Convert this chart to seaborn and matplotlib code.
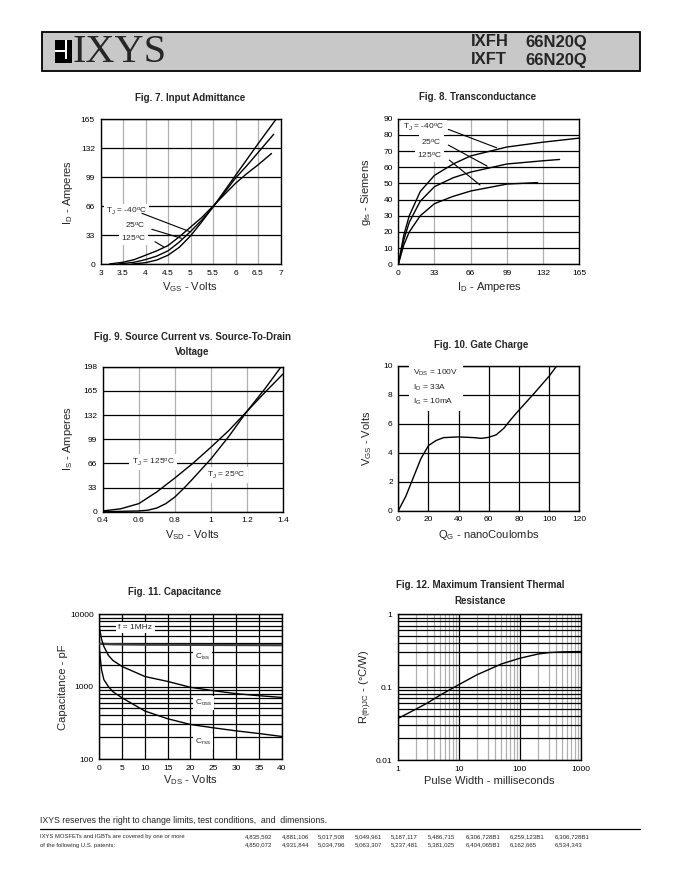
import numpy as np
import pandas as pd
import matplotlib
matplotlib.use("Agg")
import matplotlib.pyplot as plt
import seaborn as sns
from matplotlib.patches import Rectangle
from matplotlib.ticker import LogLocator, NullFormatter, FixedLocator
from matplotlib.lines import Line2D

# Fig. 7 - input admittance (V_GS vs I_D)
vgs_m40 = [3.7, 3.75, 4.0, 4.25, 4.5, 4.75, 5.0, 5.25, 5.5, 5.75, 6.0, 6.25, 6.5, 6.9]
id_m40 = [0, 0.2, 1.5, 4.5, 10, 19, 32, 48, 65, 83, 101, 119, 137, 165]
vgs_25 = [3.4, 3.5, 3.75, 4.0, 4.25, 4.5, 4.75, 5.0, 5.25, 5.5, 5.75, 6.0, 6.25, 6.5, 6.85]
id_25 = [0, 0.5, 2, 5, 9, 15, 25, 37, 50, 65, 81, 98, 112, 127, 148]
vgs_125 = [3.2, 3.5, 3.75, 4.0, 4.25, 4.5, 4.75, 5.0, 5.25, 5.5, 5.75, 6.0, 6.25, 6.5, 6.8]
id_125 = [0, 2, 5, 10, 15, 21, 31, 42, 53, 66, 79, 92, 103, 113, 126]

# Fig. 8 - transconductance
id8_m40 = [0, 5, 10, 20, 33, 50, 66, 99, 132, 165]
gfs_m40 = [0, 18, 30, 45, 55, 62, 67, 72.5, 75.5, 78]
id8_25 = [0, 5, 10, 20, 33, 50, 66, 99, 132, 147]
gfs_25 = [0, 15, 26, 39, 48, 53.5, 57, 62, 64, 64.8]
id8_125 = [0, 5, 10, 20, 33, 50, 66, 99, 127]
gfs_125 = [0, 12, 20, 30, 37.5, 42, 45.3, 49.6, 50.5]

# Fig. 9 - source current vs source-to-drain voltage
vsd_125 = [0.4, 0.5, 0.6, 0.7, 0.8, 0.9, 1.0, 1.1, 1.2, 1.3, 1.4]
is_125 = [1, 4, 11, 27, 46, 66, 88, 111, 137, 163, 188]
vsd_25 = [0.4, 0.6, 0.65, 0.7, 0.75, 0.8, 0.85, 0.9, 1.0, 1.1, 1.2, 1.3, 1.39]
is_25 = [0, 1, 2, 5, 11, 20, 32, 45, 72, 103, 137, 168, 198]

# Fig. 10 - gate charge
qg = [0, 5, 10, 15, 20, 25, 30, 40, 50, 55, 60, 65, 70, 75, 80, 90, 100, 105]
vgs_q = [0, 1.0, 2.3, 3.6, 4.5, 4.85, 5.05, 5.1, 5.05, 5.0, 5.07, 5.25, 5.7, 6.35, 6.95, 8.1, 9.3, 10.0]

# Fig. 11 - capacitance
vds_c = [0, 0.5, 1, 2, 3, 5, 10, 15, 20, 25, 30, 35, 40]
ciss = [3950, 3920, 3900, 3870, 3850, 3830, 3800, 3790, 3780, 3770, 3760, 3750, 3740]
coss = [6700, 4500, 3600, 2700, 2300, 1900, 1380, 1180, 980, 880, 800, 750, 710]
crss = [3300, 1700, 1250, 1000, 850, 700, 460, 360, 300, 270, 245, 225, 205]

# Fig. 12 - transient thermal resistance
tp = [1, 2, 3, 5, 10, 20, 30, 50, 100, 200, 300, 500, 1000]
rth = [0.037, 0.050, 0.060, 0.078, 0.108, 0.148, 0.172, 0.208, 0.249, 0.285, 0.298, 0.305, 0.308]

patents_row1 = ["4,835,592", "4,881,106", "5,017,508", "5,049,961", "5,187,117",
                "5,486,715", "6,306,728B1", "6,259,123B1", "6,306,728B1"]
patents_row2 = ["4,850,072", "4,931,844", "5,034,796", "5,063,307", "5,237,481",
                "5,381,025", "6,404,065B1", "6,162,665", "6,534,343"]
patent_x = [245, 282, 318, 355, 391, 428, 466, 510, 555]

sns.set_style("white")
plt.rcParams['font.family'] = ['Liberation Sans', 'DejaVu Sans']
plt.rcParams['mathtext.fontset'] = 'custom'
plt.rcParams['mathtext.rm'] = 'Liberation Sans'
plt.rcParams['mathtext.it'] = 'Liberation Sans'
plt.rcParams['mathtext.bf'] = 'Liberation Sans:bold'

W, H = 680, 880
fig = plt.figure(figsize=(6.8, 8.8), dpi=100)


def box(l, t, r, b):
    return [l / W, 1 - b / H, (r - l) / W, (b - t) / H]


def fx(x):
    return x / W


def fy(y):
    return 1 - y / H


def curve(ax, x, y, lw=1.0, color='black'):
    df = pd.DataFrame({'x': x, 'y': y})
    sns.lineplot(data=df, x='x', y='y', ax=ax, color=color, linewidth=lw,
                 estimator=None, sort=False, legend=False, zorder=4)
    # seaborn puts the column names on the axes, the page draws its own labels
    ax.set_xlabel('')
    ax.set_ylabel('')


def setup(ax, xgrid='#b0b0b0', ygrid='black'):
    for s in ax.spines.values():
        s.set_color('black')
        s.set_linewidth(1.0)
    ax.tick_params(labelsize=6, length=2, width=0.6, pad=2, colors='black')
    ax.set_axisbelow(True)
    ax.xaxis.grid(True, color=xgrid, lw=0.9)
    ax.yaxis.grid(True, color=ygrid, lw=0.9)


def label(ax, x, y, s, size=6, ha='left'):
    ax.text(x, y, s, fontsize=size, va='center', ha=ha, zorder=3,
            bbox=dict(facecolor='white', edgecolor='none', pad=1.5))


def leader(ax, p0, p1):
    ax.annotate('', xy=p1, xytext=p0, zorder=5,
                arrowprops=dict(arrowstyle='-', lw=0.8, color='black',
                                shrinkA=0, shrinkB=0))


def frect(l, t, w, h, color):
    fig.patches.append(Rectangle((fx(l), fy(t + h)), w / W, h / H,
                                 transform=fig.transFigure, facecolor=color,
                                 edgecolor='none'))


# ---------- header ----------
fig.patches.append(Rectangle((fx(42), fy(71)), (640 - 42) / W, (71 - 32) / H,
                             transform=fig.transFigure, facecolor='#c8c8c8',
                             edgecolor='black', lw=1.3))
frect(55, 39.7, 17.3, 23.3, 'black')
frect(65, 39.7, 1.7, 19, 'white')
frect(55, 50.3, 11.7, 2.2, 'white')
fig.text(fx(72.5), fy(52), 'IXYS', family='Liberation Serif', fontsize=29, va='center')
for yy, pn in [(42, 'IXFH'), (60, 'IXFT')]:
    fig.text(fx(471), fy(yy), pn, fontsize=12, weight='bold', va='center')
    fig.text(fx(525), fy(yy), '66N20Q', fontsize=12, weight='bold', va='center')

# ---------- Fig 7 ----------
ax7 = fig.add_axes(box(100.5, 119.3, 280.5, 264))
setup(ax7)
curve(ax7, vgs_m40, id_m40)
curve(ax7, vgs_25, id_25)
curve(ax7, vgs_125, id_125)
ax7.set_xlim(3, 7)
ax7.set_ylim(0, 165)
ax7.set_xticks([3, 3.5, 4, 4.5, 5, 5.5, 6, 6.5, 7])
ax7.set_xticklabels(['3', '3.5', '4', '4.5', '5', '5.5', '6', '6.5', '7'])
ax7.set_yticks([0, 33, 66, 99, 132, 165])
label(ax7, 3.12, 59.6, r'T$_{J}$ = -40$^{o}$C')
label(ax7, 3.55, 44.5, r'25$^{o}$C')
label(ax7, 3.45, 30, r'125$^{o}$C')
leader(ax7, (3.92, 57.8), (4.99, 36.8))
leader(ax7, (4.14, 39.6), (4.80, 29.3))
leader(ax7, (4.21, 25.4), (4.40, 19.7))
fig.text(fx(190), fy(98), 'Fig. 7. Input Admittance', fontsize=7, weight='bold', ha='center', va='center')
fig.text(fx(190), fy(287), r'V$_{G S}$ - Volts', fontsize=8, ha='center', va='center')
fig.text(fx(68), fy(192), r'I$_{D}$ - Amperes', fontsize=8, ha='center', va='center', rotation=90)

# ---------- Fig 8 ----------
ax8 = fig.add_axes(box(398.3, 118.7, 579.3, 264.3))
setup(ax8)
curve(ax8, id8_m40, gfs_m40)
curve(ax8, id8_25, gfs_25)
curve(ax8, id8_125, gfs_125)
ax8.set_xlim(0, 165)
ax8.set_ylim(0, 90)
ax8.set_xticks([0, 33, 66, 99, 132, 165])
ax8.set_yticks(range(0, 91, 10))
label(ax8, 4.6, 84.5, r'T$_{J}$ = -40$^{o}$C')
label(ax8, 21, 75.8, r'25$^{o}$C')
label(ax8, 17, 67.5, r'125$^{o}$C')
leader(ax8, (45.6, 83.4), (89.7, 72))
leader(ax8, (45.6, 73.7), (81, 60.7))
leader(ax8, (46.5, 64.4), (74.5, 49))
fig.text(fx(478), fy(97), 'Fig. 8. Transconductance', fontsize=7, weight='bold', ha='center', va='center')
fig.text(fx(490), fy(287), r'I$_{D}$ - Amperes', fontsize=8, ha='center', va='center')
fig.text(fx(366), fy(192), r'g$_{f s}$ - Siemens', fontsize=8, ha='center', va='center', rotation=90)

# ---------- Fig 9 ----------
ax9 = fig.add_axes(box(102.7, 366.7, 283, 511.7))
setup(ax9)
curve(ax9, vsd_125, is_125)
curve(ax9, vsd_25, is_25)
ax9.set_xlim(0.4, 1.4)
ax9.set_ylim(0, 198)
ax9.set_xticks([0.4, 0.6, 0.8, 1.0, 1.2, 1.4])
ax9.set_xticklabels(['0.4', '0.6', '0.8', '1', '1.2', '1.4'])
ax9.set_yticks([0, 33, 66, 99, 132, 165, 198])
label(ax9, 0.56, 68, r'T$_{J}$ = 125$^{o}$C')
label(ax9, 0.98, 50, r'T$_{J}$ = 25$^{o}$C')
fig.text(fx(192), fy(337), 'Fig. 9. Source Current vs. Source-To-Drain', fontsize=7, weight='bold', ha='center', va='center')
fig.text(fx(192), fy(352), 'Voltage', fontsize=7, weight='bold', ha='center', va='center')
fig.text(fx(192), fy(535), r'V$_{SD}$ - Volts', fontsize=8, ha='center', va='center')
fig.text(fx(68), fy(439), r'I$_{S}$ - Amperes', fontsize=8, ha='center', va='center', rotation=90)

# ---------- Fig 10 ----------
ax10 = fig.add_axes(box(398.3, 366, 579.3, 510.7))
setup(ax10, xgrid='black')
curve(ax10, qg, vgs_q)
ax10.set_xlim(0, 120)
ax10.set_ylim(0, 10)
ax10.set_xticks(range(0, 121, 20))
ax10.set_yticks(range(0, 11, 2))
ax10.text(10, 8.5, 'V$_{DS}$ = 100V\nI$_{D}$ = 33A\nI$_{G}$ = 10mA', fontsize=6, va='center',
          ha='left', linespacing=1.6, zorder=3,
          bbox=dict(facecolor='white', edgecolor='none', pad=3))
fig.text(fx(481), fy(345), 'Fig. 10. Gate Charge', fontsize=7, weight='bold', ha='center', va='center')
fig.text(fx(489), fy(535), r'Q$_{G}$ - nanoCoulombs', fontsize=8, ha='center', va='center')
fig.text(fx(367), fy(438), r'V$_{GS}$ - Volts', fontsize=8, ha='center', va='center', rotation=90)

# ---------- Fig 11 ----------
ax11 = fig.add_axes(box(99.3, 614.3, 281.7, 759))
ax11.set_yscale('log')
setup(ax11, xgrid='black')
ax11.yaxis.set_minor_locator(LogLocator(base=10, subs=range(2, 10)))
ax11.yaxis.set_minor_formatter(NullFormatter())
ax11.yaxis.grid(True, which='both', color='black', lw=0.9)
ax11.tick_params(which='minor', length=0)
curve(ax11, vds_c, ciss, lw=1.6, color='#404040')
curve(ax11, vds_c, coss)
curve(ax11, vds_c, crss)
ax11.set_xlim(0, 40)
ax11.set_ylim(100, 10000)
ax11.set_xticks(range(0, 41, 5))
ax11.yaxis.set_major_locator(FixedLocator([100, 1000, 10000]))
ax11.set_yticklabels(['100', '1000', '10000'])
label(ax11, 4.2, 6600, 'f = 1MHz')
label(ax11, 21, 2600, r'C$_{iss}$')
label(ax11, 21, 600, r'C$_{oss}$')
label(ax11, 21, 174, r'C$_{rss}$')
fig.text(fx(175), fy(592), 'Fig. 11. Capacitance', fontsize=7, weight='bold', ha='center', va='center')
fig.text(fx(190), fy(780), r'V$_{DS}$ - Volts', fontsize=8, ha='center', va='center')
fig.text(fx(63), fy(687), 'Capacitance - pF', fontsize=8, ha='center', va='center', rotation=90)

# ---------- Fig 12 ----------
ax12 = fig.add_axes(box(397.7, 614.3, 580.7, 760))
ax12.set_xscale('log')
ax12.set_yscale('log')
setup(ax12, xgrid='black')
for axis in (ax12.xaxis, ax12.yaxis):
    axis.set_minor_locator(LogLocator(base=10, subs=range(2, 10)))
    axis.set_minor_formatter(NullFormatter())
ax12.yaxis.grid(True, which='both', color='black', lw=0.9)
ax12.xaxis.grid(True, which='minor', color='#b0b0b0', lw=0.9)
ax12.tick_params(which='minor', length=0)
curve(ax12, tp, rth)
ax12.set_xlim(1, 1000)
ax12.set_ylim(0.01, 1)
ax12.xaxis.set_major_locator(FixedLocator([1, 10, 100, 1000]))
ax12.set_xticklabels(['1', '10', '100', '1000'])
ax12.yaxis.set_major_locator(FixedLocator([0.01, 0.1, 1]))
ax12.set_yticklabels(['0.01', '0.1', '1'])
fig.text(fx(480), fy(585), 'Fig. 12. Maximum Transient Thermal', fontsize=7, weight='bold', ha='center', va='center')
fig.text(fx(480), fy(601), 'Resistance', fontsize=7, weight='bold', ha='center', va='center')
fig.text(fx(489), fy(781), 'Pulse Width - milliseconds', fontsize=8, ha='center', va='center')
fig.text(fx(366), fy(687), r'R$_{(th) J C}$ - (°C/W)', fontsize=8, ha='center', va='center', rotation=90)

# ---------- footer ----------
fig.text(fx(40), fy(820), 'IXYS reserves the right to change limits, test conditions,  and  dimensions.',
         fontsize=6.3, va='center')
fig.lines.append(Line2D([fx(40), fx(640)], [fy(829), fy(829)], transform=fig.transFigure,
                        color='black', lw=0.9))
fig.text(fx(40), fy(836.5), 'IXYS MOSFETs and IGBTs are covered by one or more', fontsize=4.2, va='center')
fig.text(fx(40), fy(845), 'of the following U.S. patents:', fontsize=4.2, va='center')
for xx, p1, p2 in zip(patent_x, patents_row1, patents_row2):
    fig.text(fx(xx), fy(836.5), p1, fontsize=4.4, va='center')
    fig.text(fx(xx), fy(845), p2, fontsize=4.4, va='center')

fig.savefig('out.png', dpi=100, facecolor='white')
